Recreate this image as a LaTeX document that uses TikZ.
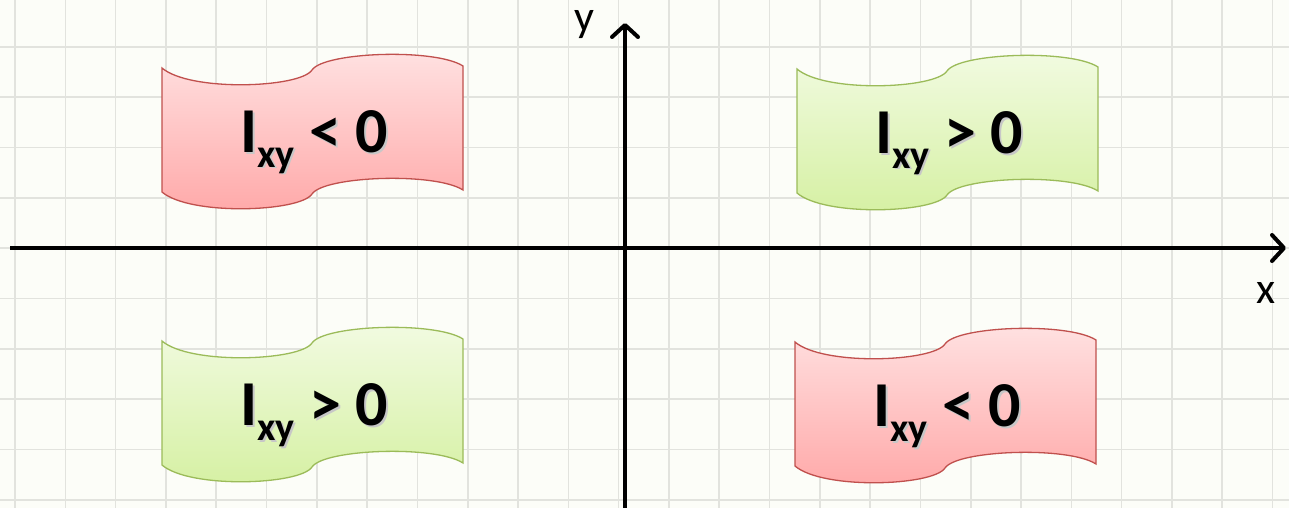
\documentclass[tikz,border=0pt]{standalone}
\usepackage{fontspec}
\setmainfont{Carlito}
\usetikzlibrary{arrows.meta,shadows.blur}
\definecolor{bg}{HTML}{FCFDF8}
\definecolor{gridc}{HTML}{E2E3DE}
\definecolor{redB}{HTML}{C0504D}
\definecolor{redT}{HTML}{FFE2E2}
\definecolor{redM}{HTML}{FFA8A8}
\definecolor{grnB}{HTML}{9BBB59}
\definecolor{grnT}{HTML}{F2FBE2}
\definecolor{grnM}{HTML}{D5F0A2}
\newcommand{\shtxt}[1]{\makebox[0pt][l]{\kern2pt\raisebox{-2pt}{\color{black!22}#1}}#1}
\newcommand{\ixy}[1]{\shtxt{I\raisebox{-15pt}{\fontsize{40}{40}\selectfont xy}\ #1\ 0}}
\tikzset{
  wave/.pic={\path[pic actions] (0,0) .. controls (28,24) and (138,20) .. (150,2)
      .. controls (162,-16) and (273,-20) .. (301,-2) -- (301,122)
      .. controls (273,104) and (162,108) .. (150,126)
      .. controls (138,144) and (28,148) .. (0,124) -- cycle;},
  redwave/.style={draw=redB, line width=1.3pt, top color=redT, bottom color=redM,
      blur shadow={shadow xshift=1pt, shadow yshift=-3pt, shadow blur radius=5pt, shadow opacity=25}},
  grnwave/.style={draw=grnB, line width=1.3pt, top color=grnT, bottom color=grnM,
      blur shadow={shadow xshift=1pt, shadow yshift=-3pt, shadow blur radius=5pt, shadow opacity=25}},
  lbl/.style={anchor=base, inner sep=0pt, font=\fontsize{64}{64}\selectfont\bfseries},
  axlbl/.style={anchor=base, inner sep=0pt, font=\fontsize{44}{44}\selectfont},
  axis/.style={line width=4pt, -{Straight Barb[length=12pt,width=26pt,round]}},
}
\begin{document}
\begin{tikzpicture}[x=1pt,y=-1pt]
\fill[bg] (0,0) rectangle (1289,508);
\useasboundingbox (0,0) rectangle (1289,508);
\foreach \i in {0,...,25} \draw[gridc, line width=1.6pt] ({15+50.3*\i},0) -- ({15+50.3*\i},508);
\foreach \i in {-1,...,9} \draw[gridc, line width=1.6pt] (0,{47+50.3*\i}) -- (1289,{47+50.3*\i});
% waves
\pic[redwave] at (162,68) {wave};
\pic[grnwave] at (797,69) {wave};
\pic[grnwave] at (162,341) {wave};
\pic[redwave] at (795,342) {wave};
% texts
\node[lbl] (t1) at (314,152) {\ixy{<}};
\node[lbl] (t2) at (949,153) {\ixy{>}};
\node[lbl] (t3) at (314,425) {\ixy{>}};
\node[lbl] (t4) at (947,426) {\ixy{<}};
% axes
\coordinate (xs) at (10,248);
\coordinate (xe) at (1286,248);
\coordinate (ys) at (625,508);
\coordinate (ye) at (625,23);
\draw[axis] (xs) -- (xe);
\draw[axis] (ys) -- (ye);
\node[axlbl] (ylab) at (584,32) {y};
\node[axlbl] (xlab) at (1266,303) {x};
\end{tikzpicture}
\end{document}
